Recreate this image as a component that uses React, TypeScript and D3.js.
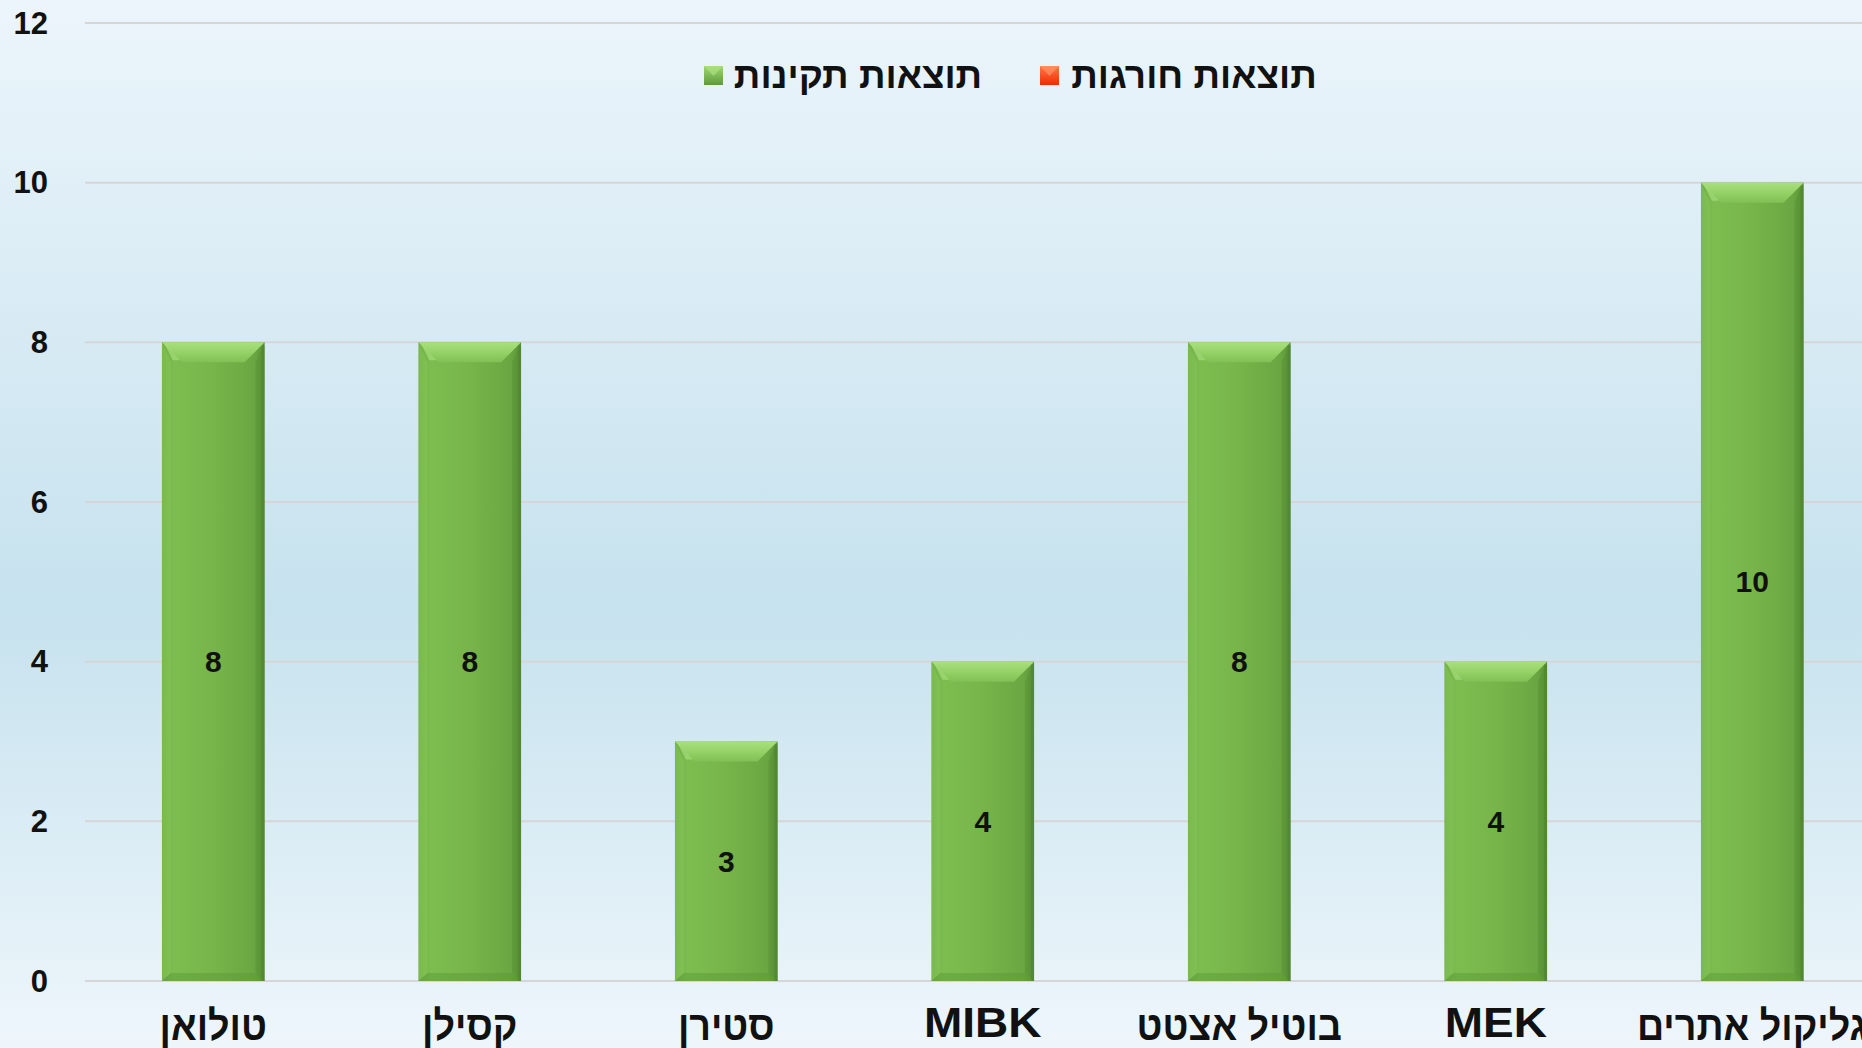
import * as d3 from 'd3';

const W = 1862;
const H = 1048;

// categories (left to right as shown) and series values
const categories = ['טולואן', 'קסילן', 'סטירן', 'MIBK', 'בוטיל אצטט', 'MEK', 'גליקול אתרים'];
const normalValues = [8, 8, 3, 4, 8, 4, 10];
const exceedValues = [0, 0, 0, 0, 0, 0, 0];
const yTicks = [0, 2, 4, 6, 8, 10, 12];
const legendLabels = ['תוצאות תקינות', 'תוצאות חורגות'];

const HEB_FONT = '"Liberation Sans", "DejaVu Sans", sans-serif';
const BEVEL = 20;

const x = d3
  .scaleBand<string>()
  .domain(categories)
  .range([85, 85 + 7 * 256.5])
  .paddingInner(0.6)
  .paddingOuter(0.3);

const y = d3.scaleLinear().domain([0, 12]).range([981, 23]);

const isLatin = (s: string) => /^[A-Za-z]+$/.test(s);

function Bar({ cat, v }: { cat: string; v: number }) {
  const x0 = x(cat)!;
  const w = x.bandwidth();
  const y0 = y(v);
  const y1 = y(0);
  const b = BEVEL;
  const pts = (arr: number[][]) => arr.map((p) => p.join(',')).join(' ');
  return (
    <g>
      <rect x={x0} y={y0} width={w} height={y1 - y0} fill="url(#barBody)" />
      {/* top bevel */}
      <polygon
        points={pts([[x0, y0], [x0 + w, y0], [x0 + w - b, y0 + b], [x0 + b, y0 + b]])}
        fill="url(#bevelTop)"
      />
      <polygon
        points={pts([[x0 + 2, y0 + 1], [x0 + b * 0.9, y0 + b * 0.9], [x0 + b * 0.55, y0 + b * 0.9]])}
        fill="#b6ea8e"
        opacity={0.5}
      />
      {/* left bevel */}
      <polygon
        points={pts([[x0, y0], [x0 + b * 0.45, y0 + b], [x0 + b * 0.45, y1 - b * 0.4], [x0, y1]])}
        fill="#8fcf60"
        opacity={0.35}
      />
      {/* right bevel */}
      <polygon
        points={pts([[x0 + w, y0], [x0 + w - b * 0.45, y0 + b], [x0 + w - b * 0.45, y1 - b * 0.4], [x0 + w, y1]])}
        fill="#4f8530"
        opacity={0.28}
      />
      {/* bottom bevel */}
      <polygon
        points={pts([[x0, y1], [x0 + b * 0.45, y1 - b * 0.4], [x0 + w - b * 0.45, y1 - b * 0.4], [x0 + w, y1]])}
        fill="#5d9a3a"
        opacity={0.5}
      />
      <rect x={x0 + w - 3} y={y0 + 3} width={3} height={y1 - y0 - 3} fill="#4d7f33" opacity={0.5} />
      <text
        x={x0 + w / 2}
        y={y(v / 2)}
        textAnchor="middle"
        dominantBaseline="central"
        fontFamily={HEB_FONT}
        fontWeight="bold"
        fontSize={30}
        fill="#111"
      >
        {v}
      </text>
    </g>
  );
}

export default function App() {
  return (
    <svg
      width={W}
      height={H}
      style={{ position: 'absolute', left: 0, top: 0, display: 'block' }}
    >
      <defs>
        <linearGradient id="bg" x1="0" y1="0" x2="0" y2="1">
          <stop offset="0" stopColor="#ecf5fb" />
          <stop offset="0.58" stopColor="#c6e2ee" />
          <stop offset="1" stopColor="#eef6fb" />
        </linearGradient>
        <linearGradient id="barBody" x1="0" y1="0" x2="1" y2="0">
          <stop offset="0" stopColor="#6fae45" />
          <stop offset="0.12" stopColor="#7dbd4f" />
          <stop offset="0.5" stopColor="#77b54a" />
          <stop offset="0.9" stopColor="#6aa742" />
          <stop offset="1" stopColor="#5a9237" />
        </linearGradient>
        <linearGradient id="bevelTop" x1="0" y1="0" x2="0" y2="1">
          <stop offset="0" stopColor="#a8e07e" />
          <stop offset="0.5" stopColor="#95d267" />
          <stop offset="1" stopColor="#80c055" />
        </linearGradient>
        <linearGradient id="legGreen" x1="0" y1="0" x2="0" y2="1">
          <stop offset="0" stopColor="#9fd873" />
          <stop offset="1" stopColor="#5f9a3a" />
        </linearGradient>
        <linearGradient id="legRed" x1="0" y1="0" x2="0" y2="1">
          <stop offset="0" stopColor="#ff7a4a" />
          <stop offset="1" stopColor="#f02a00" />
        </linearGradient>
      </defs>

      <rect x={0} y={0} width={W} height={H} fill="url(#bg)" />

      {/* gridlines + y labels */}
      {yTicks.map((t) => (
        <g key={t}>
          <line x1={85} x2={W} y1={y(t)} y2={y(t)} stroke="#d6d6d8" strokeWidth={2} />
          <text
            x={48}
            y={y(t)}
            textAnchor="end"
            dominantBaseline="central"
            fontFamily={HEB_FONT}
            fontWeight="bold"
            fontSize={31}
            fill="#111"
          >
            {t}
          </text>
        </g>
      ))}

      {/* bars */}
      {categories.map((c, i) => (
        <Bar key={c} cat={c} v={normalValues[i]} />
      ))}
      {exceedValues.some((v) => v > 0) ? null : null}

      {/* x labels */}
      {categories.map((c) => {
        const cx = x(c)! + x.bandwidth() / 2;
        const latin = isLatin(c);
        return (
          <text
            key={c}
            transform={`translate(${cx},${latin ? 1037 : 1040}) scale(${latin ? 1.07 : 0.92},1)`}
            textAnchor="middle"
            fontFamily={HEB_FONT}
            fontWeight="bold"
            fontSize={latin ? 43 : 41}
            fill="#111"
          >
            {c}
          </text>
        );
      })}

      {/* legend */}
      <g>
        <rect x={704} y={66} width={19} height={19} fill="url(#legGreen)" />
        <polygon points="704,66 723,66 713.5,76" fill="#b0e58a" opacity={0.6} />
        <text
          x={858}
          y={88}
          textAnchor="middle"
          fontFamily={HEB_FONT}
          fontWeight="bold"
          fontSize={37}
          fill="#111"
        >
          {legendLabels[0]}
        </text>
        <rect x={1040} y={66} width={19} height={19} fill="url(#legRed)" />
        <polygon points="1040,66 1059,66 1049.5,76" fill="#ff9a70" opacity={0.6} />
        <text
          x={1194}
          y={88}
          textAnchor="middle"
          fontFamily={HEB_FONT}
          fontWeight="bold"
          fontSize={37}
          fill="#111"
        >
          {legendLabels[1]}
        </text>
      </g>
    </svg>
  );
}
